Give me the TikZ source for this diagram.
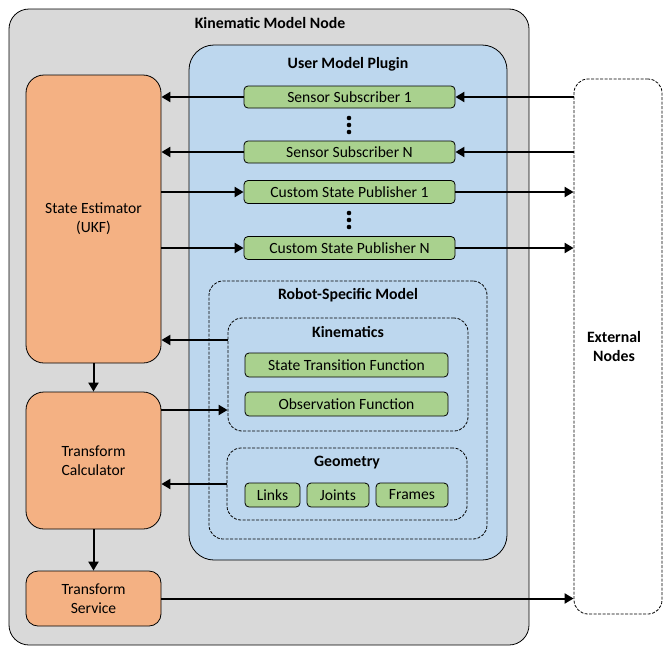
\documentclass[tikz,border=0pt]{standalone}
\usepackage{fontspec}
\setmainfont{Carlito}
\usetikzlibrary{arrows.meta}
\definecolor{greybg}{HTML}{D9D9D9}
\definecolor{bluebg}{HTML}{BDD7EE}
\definecolor{orangebg}{HTML}{F4B183}
\definecolor{greenbg}{HTML}{A9D18E}
\tikzset{
  base/.style={draw=black, line width=0.8pt, inner sep=0pt, align=center, font=\fontsize{15.6}{19}\selectfont},
  greybox/.style={base, fill=greybg, rounded corners=20pt},
  bluebox/.style={base, fill=bluebg, rounded corners=25pt},
  orangebox/.style={base, fill=orangebg, rounded corners=18pt},
  greenbox/.style={base, fill=greenbg, rounded corners=4pt},
  dashbox/.style={base, dash pattern=on 3pt off 1.5pt, rounded corners=14pt},
  ttl/.style={font=\fontsize{15.8}{19}\selectfont\bfseries, inner sep=0pt},
  arr/.style={line width=2pt, -{Triangle[length=9pt,width=10pt]}},
}
\begin{document}
\begin{tikzpicture}[x=1pt,y=-1pt]
\useasboundingbox (0,0) rectangle (668,656);
\node[greybox, minimum width=520, minimum height=636] (kmn) at (269,327) {};
\node[ttl] (kmnt) at (270,23) {Kinematic Model Node};
\node[bluebox, minimum width=318, minimum height=515] (ump) at (348,302.5) {};
\node[ttl] (umpt) at (348,64) {User Model Plugin};
\node[orangebox, minimum width=135, minimum height=288] (se) at (93.5,219) {State Estimator\\(UKF)};
\node[orangebox, minimum width=135, minimum height=137] (tc) at (93.5,460.5) {Transform\\Calculator};
\node[orangebox, minimum width=135, minimum height=55, rounded corners=12pt] (ts) at (93.5,598.5) {Transform\\Service};
\node[greenbox, minimum width=211, minimum height=22] (ss1) at (349.5,97) {Sensor Subscriber 1};
\node[greenbox, minimum width=211, minimum height=22] (ssn) at (349.5,152) {Sensor Subscriber N};
\node[greenbox, minimum width=211, minimum height=23] (cp1) at (349.5,192) {Custom State Publisher 1};
\node[greenbox, minimum width=211, minimum height=23] (cpn) at (349.5,248) {Custom State Publisher N};
\foreach \yy in {118,125,132,213,220,227} \fill (349,\yy) circle (2.3);
\node[dashbox, fill=white, minimum width=88, minimum height=535] (ext) at (618,346.5) {};
\node[ttl, align=center] (extt) at (614,347) {External\\Nodes};
\node[dashbox, minimum width=278, minimum height=258] (rsm) at (348,410) {};
\node[ttl] (rsmt) at (348,295) {Robot-Specific Model};
\node[dashbox, minimum width=240, minimum height=113] (kin) at (348,374.5) {};
\node[ttl] (kint) at (348,332) {Kinematics};
\node[greenbox, minimum width=203, minimum height=24] (stf) at (346.5,365) {State Transition Function};
\node[greenbox, minimum width=203, minimum height=24] (of) at (346.5,404) {Observation Function};
\node[dashbox, minimum width=240, minimum height=72] (geo) at (347,484) {};
\node[ttl] (geot) at (347,463) {Geometry};
\node[greenbox, minimum width=55, minimum height=24] (links) at (272.5,495) {Links};
\node[greenbox, minimum width=62, minimum height=24] (joints) at (338,495) {Joints};
\node[greenbox, minimum width=72, minimum height=24] (frames) at (412,495) {Frames};
% arrows
\draw[arr] (ext.west |- ss1.east) -- (ss1.east);
\draw[arr] (ext.west |- ssn.east) -- (ssn.east);
\draw[arr] (cp1.east) -- (ext.west |- cp1.east);
\draw[arr] (cpn.east) -- (ext.west |- cpn.east);
\draw[arr] (ss1.west) -- (se.east |- ss1.west);
\draw[arr] (ssn.west) -- (se.east |- ssn.west);
\draw[arr] (se.east |- cp1.west) -- (cp1.west);
\draw[arr] (se.east |- cpn.west) -- (cpn.west);
\coordinate (kinout) at ([yshift=34.5pt]kin.west);
\draw[arr] (kinout) -- (se.east |- kinout);
\coordinate (tcout) at ([yshift=50.5pt]tc.east);
\draw[arr] (tcout) -- (kin.west |- tcout);
\draw[arr] (geo.west) -- (tc.east |- geo.west);
\draw[arr] (se.south) -- (tc.north);
\draw[arr] (tc.south) -- (ts.north);
\draw[arr] (ts.east) -- (ext.west |- ts.east);
\end{tikzpicture}
\end{document}
